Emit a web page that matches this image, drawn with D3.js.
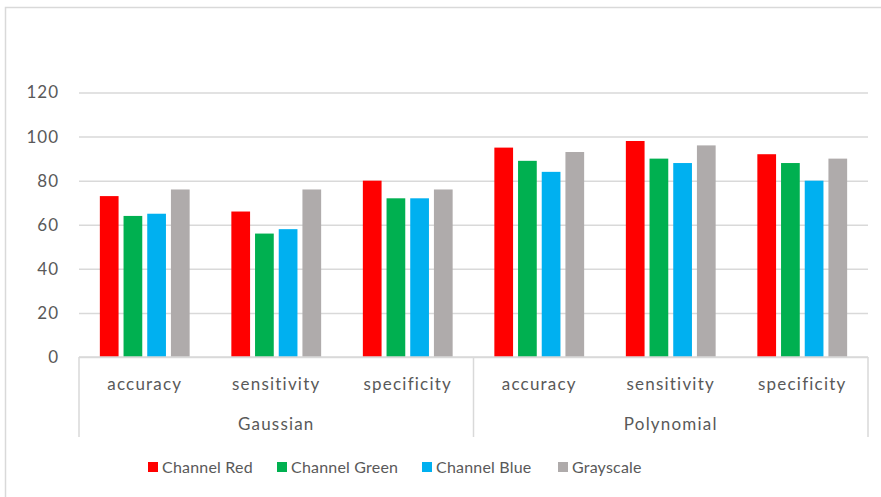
<!DOCTYPE html>
<html>
<head>
<meta charset="utf-8">
<script src="https://cdn.jsdelivr.net/npm/d3@7"></script>
<style>
  body { margin: 0; background: #fff; }
  text { font-family: Lato, "Liberation Sans", sans-serif; fill: #595959; }
</style>
</head>
<body>
<div id="chart"></div>
<script>
// chart values
var groups = ["Gaussian", "Polynomial"];
var metrics = ["accuracy", "sensitivity", "specificity"];
var seriesNames = ["Channel Red", "Channel Green", "Channel Blue", "Grayscale"];
var seriesColors = ["#ff0000", "#00b050", "#00b0f0", "#afabab"];
var channelRed   = [73, 66, 80, 95, 98, 92];
var channelGreen = [64, 56, 72, 89, 90, 88];
var channelBlue  = [65, 58, 72, 84, 88, 80];
var grayscale    = [76, 76, 76, 93, 96, 90];
var yTicks = [0, 20, 40, 60, 80, 100, 120];

var seriesValues = [channelRed, channelGreen, channelBlue, grayscale];

// build rows: one per group/metric
var rows = [];
groups.forEach(function(g, gi) {
    metrics.forEach(function(m, mi) {
        var i = gi * metrics.length + mi;
        rows.push({
            key: g + "|" + m,
            group: g,
            metric: m,
            values: seriesNames.map(function(s, si) {
                return {series: s, color: seriesColors[si], value: seriesValues[si][i]};
            })
        });
    });
});

var W = 881, H = 497;
var plotLeft = 79, plotRight = 868, plotTop = 92.5, plotBottom = 357;

var svg = d3.select("#chart")
    .append("svg")
    .attr("width", W)
    .attr("height", H);

// outer chart border
svg.append("rect")
    .attr("x", 5.5)
    .attr("y", 7.5)
    .attr("width", 900)
    .attr("height", 520)
    .attr("fill", "none")
    .attr("stroke", "#d9d9d9")
    .attr("stroke-width", 1.5);

// scales
var x0 = d3.scaleBand()
    .domain(rows.map(function(d) { return d.key; }))
    .range([plotLeft, plotRight]);

var x1 = d3.scaleBand()
    .domain(seriesNames)
    .range([0, x0.bandwidth()])
    .paddingInner(0.21)
    .paddingOuter(0.88);

var y = d3.scaleLinear()
    .domain([0, 120])
    .range([plotBottom, plotTop]);

// gridlines + y labels
var yAxis = svg.append("g")
    .attr("transform", "translate(" + plotLeft + ",0)")
    .call(d3.axisLeft(y).tickValues(yTicks).tickSize(-(plotRight - plotLeft)).tickPadding(20));
yAxis.select(".domain").remove();
yAxis.selectAll(".tick line")
    .attr("stroke", "#d9d9d9")
    .attr("stroke-width", 1.5);
yAxis.selectAll(".tick text")
    .style("font-size", "17px")
    .style("letter-spacing", "1px")
    .attr("fill", "#595959");

// bars
var cat = svg.selectAll(".cat")
    .data(rows)
    .enter().append("g")
    .attr("class", "cat")
    .attr("transform", function(d) { return "translate(" + x0(d.key) + ",0)"; });

cat.selectAll("rect")
    .data(function(d) { return d.values; })
    .enter().append("rect")
    .attr("x", function(d) { return x1(d.series); })
    .attr("y", function(d) { return y(d.value); })
    .attr("width", x1.bandwidth())
    .attr("height", function(d) { return y(0) - y(d.value); })
    .attr("fill", function(d) { return d.color; });

// category axis: baseline and group dividers
var axisBottom = 437;
svg.append("line")
    .attr("x1", plotLeft).attr("x2", plotRight)
    .attr("y1", plotBottom).attr("y2", plotBottom)
    .attr("stroke", "#d9d9d9").attr("stroke-width", 1.5);

var dividerX = [plotLeft];
groups.forEach(function(g) {
    dividerX.push(x0(g + "|" + metrics[metrics.length - 1]) + x0.bandwidth());
});
svg.selectAll(".divider")
    .data(dividerX)
    .enter().append("line")
    .attr("class", "divider")
    .attr("x1", function(d) { return d; })
    .attr("x2", function(d) { return d; })
    .attr("y1", plotBottom)
    .attr("y2", axisBottom)
    .attr("stroke", "#d9d9d9")
    .attr("stroke-width", 1.5);

// metric labels
svg.selectAll(".metric")
    .data(rows)
    .enter().append("text")
    .attr("class", "metric")
    .attr("x", function(d) { return x0(d.key) + x0.bandwidth() / 2; })
    .attr("y", 390)
    .attr("text-anchor", "middle")
    .style("font-size", "17px")
    .style("letter-spacing", "1.2px")
    .text(function(d) { return d.metric; });

// group labels
svg.selectAll(".group")
    .data(groups)
    .enter().append("text")
    .attr("class", "group")
    .attr("x", function(g) {
        var a = x0(g + "|" + metrics[0]);
        var b = x0(g + "|" + metrics[metrics.length - 1]) + x0.bandwidth();
        return (a + b) / 2;
    })
    .attr("y", 430)
    .attr("text-anchor", "middle")
    .style("font-size", "17px")
    .style("letter-spacing", "1.2px")
    .text(function(g) { return g; });

// legend
var legendX = [148, 277, 422, 558];
var legend = svg.selectAll(".legend")
    .data(seriesNames)
    .enter().append("g")
    .attr("class", "legend")
    .attr("transform", function(d, i) { return "translate(" + legendX[i] + ",467)"; });

legend.append("rect")
    .attr("x", 0)
    .attr("y", -5)
    .attr("width", 10)
    .attr("height", 10)
    .attr("fill", function(d, i) { return seriesColors[i]; });

legend.append("text")
    .attr("x", 14)
    .attr("y", 6)
    .style("font-size", "16px")
    .style("letter-spacing", "0.2px")
    .text(function(d) { return d; });
</script>
</body>
</html>
